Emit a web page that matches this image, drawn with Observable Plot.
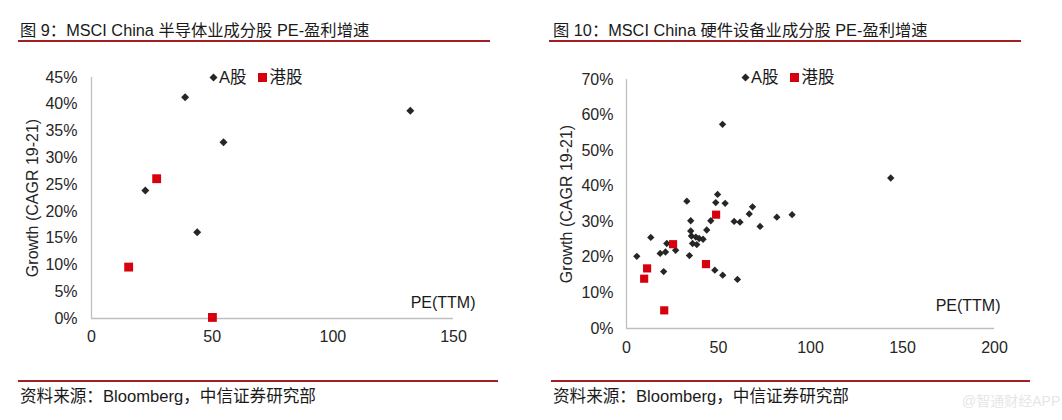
<!DOCTYPE html>
<html>
<head>
<meta charset="utf-8">
<script src="https://cdn.jsdelivr.net/npm/d3@7"></script>
<script src="https://cdn.jsdelivr.net/npm/@observablehq/plot@0.6"></script>
<style>
  body { margin: 0; background: #fff; }
  #root { position: relative; width: 1062px; height: 420px; overflow: hidden; background: #fff;
          font-family: "Liberation Sans", "Noto Sans CJK SC", sans-serif; color: #1a1a1a; }
  .abs { position: absolute; }
  .title { font-size: 16.3px; line-height: 20px; white-space: nowrap; }
  .rule { height: 1.5px; background: #a31f24; }
  .foot { font-size: 16.6px; line-height: 20px; white-space: nowrap; }
  .legend { font-size: 16.5px; line-height: 18px; white-space: nowrap; display: flex; align-items: center; color: #1a1a1a; }
  .legend svg { display: block; }
  .wm { font-size: 14px; color: #e6e6e6; white-space: nowrap; }
</style>
</head>
<body>
<div id="root"></div>
<script>
// ---------------- data ----------------
// Chart 9: semiconductor
const semiA_pe     = [38.8, 132.1, 54.7, 22.3, 43.8];
const semiA_growth = [41.3, 38.8, 32.9, 23.9, 16.1];
const semiH_pe     = [27.0, 15.4, 50.1];
const semiH_growth = [26.1, 9.6, 0.2];
const semiXTicks = [0, 50, 100, 150];
const semiYTicks = [0, 5, 10, 15, 20, 25, 30, 35, 40, 45];

// Chart 10: hardware equipment
const hwA_pe     = [52.2, 143.6, 49.5, 48.5, 53.6, 32.8, 68.5, 66.7, 90.0, 81.7, 34.9, 45.8, 58.5, 61.7, 72.6, 43.6, 34.9, 13.2, 35.3, 37.7, 39.5, 41.6, 35.9, 38.2, 21.9, 18.3, 21.2, 26.7, 5.6, 34.2, 20.2, 48.0, 52.3, 60.3];
const hwA_growth = [57.4, 42.3, 37.7, 35.4, 35.2, 35.8, 34.2, 32.2, 32.0, 31.3, 30.3, 30.3, 30.1, 29.9, 28.7, 27.7, 27.4, 25.6, 26.0, 25.7, 25.3, 25.1, 23.9, 23.6, 23.9, 21.1, 21.5, 22.0, 20.3, 20.5, 16.0, 16.4, 15.0, 13.8];
const hwH_pe     = [48.7, 25.3, 43.2, 11.2, 9.6, 20.5];
const hwH_growth = [32.0, 23.7, 18.1, 16.9, 14.0, 5.1];
const hwXTicks = [0, 50, 100, 150, 200];
const hwYTicks = [0, 10, 20, 30, 40, 50, 60, 70];

const titles = ["图 9：MSCI China 半导体业成分股 PE-盈利增速", "图 10：MSCI China 硬件设备业成分股 PE-盈利增速"];
const source = "资料来源：Bloomberg，中信证券研究部";
const seriesNames = ["A股", "港股"];
const yLabel = "Growth (CAGR 19-21)";
const xLabel = "PE(TTM)";

const DARK = "#262626";
const RED = "#d7000f";
const AXIS = "#bfbfbf";
const FONT = "'Liberation Sans', 'Noto Sans CJK SC', sans-serif";

const toRows = (xs, ys) => xs.map((x, i) => ({pe: x, g: ys[i]}));

function makeChart(o) {
  return Plot.plot({
    width: o.width, height: o.height,
    marginLeft: o.ml, marginRight: o.mr, marginTop: o.mt, marginBottom: o.mb,
    x: {domain: [0, o.xTicks[o.xTicks.length - 1]]},
    y: {domain: [0, o.yTicks[o.yTicks.length - 1]]},
    style: {fontFamily: FONT, fontSize: "16px", color: "#262626", background: "transparent", overflow: "visible"},
    marks: [
      Plot.ruleX([0], {stroke: AXIS, strokeWidth: 1.3}),
      Plot.ruleY([0], {stroke: AXIS, strokeWidth: 1.3}),
      Plot.axisY({ticks: o.yTicks, tickSize: 0, tickPadding: o.ytp, tickFormat: d => d + "%",
                  label: yLabel, labelAnchor: "center", labelArrow: "none", labelOffset: o.lo, fontSize: 16}),
      Plot.axisX({ticks: o.xTicks, tickSize: 0, tickPadding: o.xtp, tickFormat: d => String(d), label: null, fontSize: 16}),
      Plot.text([xLabel], {frameAnchor: "bottom-right", dx: o.pdx, dy: o.pdy, fontSize: 16, fill: "#1a1a1a", textAnchor: "end"}),
      Plot.dot(toRows(o.aX, o.aY), {x: "pe", y: "g", symbol: "diamond2", r: o.rA, fill: DARK, stroke: "none"}),
      Plot.dot(toRows(o.hX, o.hY), {x: "pe", y: "g", symbol: "square", r: o.rH, fill: RED, stroke: "none"})
    ]
  });
}

const root = document.getElementById("root");
function add(html, cls, style) {
  const d = document.createElement("div");
  d.className = "abs " + cls;
  Object.assign(d.style, style);
  if (typeof html === "string") d.textContent = html; else d.appendChild(html);
  root.appendChild(d);
  return d;
}
function legend(left, top) {
  const d = document.createElement("div");
  d.className = "abs legend";
  d.style.left = left + "px"; d.style.top = top + "px";
  d.innerHTML =
    `<svg width="9" height="9"><path d="M4.5 0.5L8.5 4.5L4.5 8.5L0.5 4.5Z" fill="${DARK}"/></svg>` +
    `<span style="margin-left:1px">${seriesNames[0]}</span>` +
    `<svg width="9" height="9" style="margin-left:11px"><rect width="9" height="9" fill="${RED}"/></svg>` +
    `<span style="margin-left:3px">${seriesNames[1]}</span>`;
  root.appendChild(d);
}

// titles and rules
add(titles[0], "title", {left: "20px", top: "20px"});
add(titles[1], "title", {left: "553px", top: "20px"});
add("", "rule", {left: "18px", top: "40px", width: "472px"});
add("", "rule", {left: "549px", top: "40px", width: "472px"});
add("", "rule", {left: "18px", top: "380px", width: "480px"});
add("", "rule", {left: "551px", top: "380px", width: "479px"});
add(source, "foot", {left: "20px", top: "387px"});
add(source, "foot", {left: "553px", top: "387px"});
add("@智通财经APP", "wm", {left: "962px", top: "390px"});

// chart 9
const c1 = makeChart({width: 500, height: 310, ml: 91, mr: 47, mt: 27, mb: 42,
  xTicks: semiXTicks, yTicks: semiYTicks, ytp: 14, xtp: 12, lo: 65, pdx: 22, pdy: -11,
  aX: semiA_pe, aY: semiA_growth, hX: semiH_pe, hY: semiH_growth, rA: 3.6, rH: 5.0});
add(c1, "", {left: "0px", top: "50px"});

// chart 10
const c2 = makeChart({width: 531, height: 310, ml: 95, mr: 68, mt: 29, mb: 32,
  xTicks: hwXTicks, yTicks: hwYTicks, ytp: 13, xtp: 13, lo: 66, pdx: 6, pdy: -18,
  aX: hwA_pe, aY: hwA_growth, hX: hwH_pe, hY: hwH_growth, rA: 3.3, rH: 4.6});
add(c2, "", {left: "531px", top: "50px"});

legend(209, 68);
legend(741, 68);
</script>
</body>
</html>
